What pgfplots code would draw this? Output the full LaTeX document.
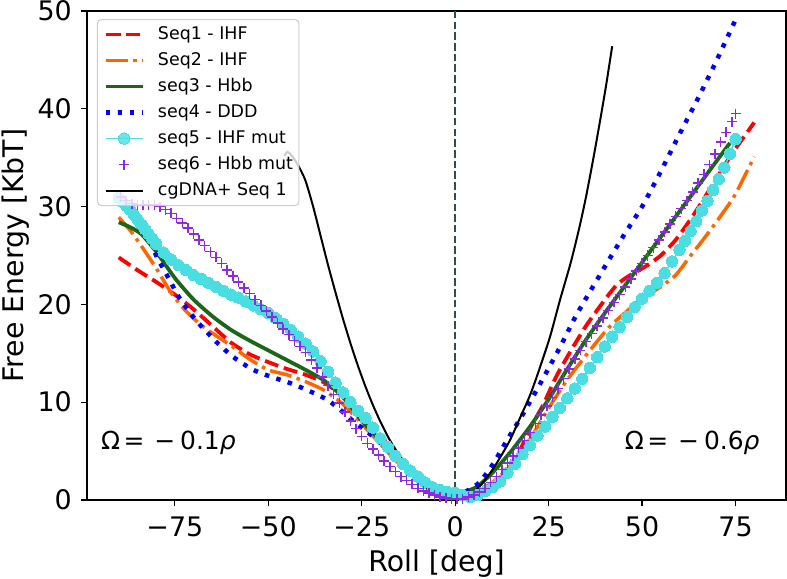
\documentclass[border=0pt]{standalone}
\usepackage{fontspec}
\setmainfont{DejaVu Sans}
\usepackage{pgfplots}
\pgfplotsset{compat=1.18}
\definecolor{c1}{RGB}{255,0,0}
\definecolor{c2}{RGB}{255,102,0}
\definecolor{c3}{RGB}{28,102,24}
\definecolor{c4}{RGB}{0,0,255}
\definecolor{c5}{RGB}{74,222,226}
\definecolor{c6}{RGB}{140,40,230}
\definecolor{vline}{RGB}{47,79,79}
\definecolor{legedge}{RGB}{204,204,204}
\begin{document}
\begin{tikzpicture}
\begin{axis}[name=ax, scale only axis, width=699bp, height=489bp,
  xmin=-98.5, xmax=88.5, ymin=0, ymax=50,
  xtick={-75,-50,-25,0,25,50,75}, xticklabels={−75,−50,−25,0,25,50,75},
  ytick={0,10,20,30,40,50}, yticklabels={0,10,20,30,40,50},
  tick align=outside, xtick pos=bottom, ytick pos=left,
  major tick length=6bp, tick style={black, line width=1.2bp},
  axis line style={line width=1.2bp},
  xticklabel style={font=\fontsize{27}{27}\selectfont, inner sep=0pt, anchor=north, yshift=-10.7bp},
  yticklabel style={font=\fontsize{27}{27}\selectfont, inner sep=0pt, anchor=east, xshift=-9bp},
  xlabel={Roll [deg]}, ylabel={Free Energy [KbT]},
  xlabel style={at={(axis description cs:0.5,-0.1466)}, anchor=base, inner sep=0pt, font=\fontsize{28.5}{28.5}\selectfont},
  ylabel style={at={(axis description cs:-0.0911,0.5)}, anchor=base, inner sep=0pt, font=\fontsize{28.5}{28.5}\selectfont},
  legend image code/.code={\draw[mark repeat=2,mark phase=2,#1] plot coordinates {(0bp,0bp) (18.5bp,0bp) (37bp,0bp)};},
  legend cell align=left,
  legend style={at={(axis description cs:0.0143,0.9836)}, anchor=north west,
    draw=legedge, line width=1bp, rounded corners=4bp, fill=white, fill opacity=0.8, draw opacity=1, text opacity=1,
    font=\fontsize{17.5}{17.5}\selectfont, inner xsep=6bp, inner ysep=6bp, row sep=8bp, column sep=13bp,
    nodes={inner sep=0pt, text height=13.5bp, text depth=4.5bp}},
]
\addplot[color=c1, line width=3.8bp, dash pattern=on 14bp off 6bp, smooth, tension=0.4] coordinates {
(-90,24.8) (-85,23.5) (-80,22.3) (-75,21.0) (-70,19.5) (-65,17.8) (-60,16.1) (-55,14.9) (-50,14.1) (-45,13.4) (-40,12.8) (-35,12.0) (-30,10.6) (-25,8.9) (-22,7.4) (-20,6.5) (-15,4.4) (-10,2.5) (-5,1.0) (-2,0.5) (0,0.4) (3,0.5) (6,0.9) (10,1.7) (14,2.8) (17,4.8) (20,7.3) (23.5,9.7) (27,12.6) (31,15.3) (35,17.8) (39.5,20.2) (43,21.9) (46,22.8) (51,23.9) (55,25.0) (59,26.6) (63.5,29.0) (68,31.7) (73.5,35.1) (77,37.0) (80,38.6)};
\addlegendentry{Seq1 - IHF}
\addplot[color=c2, line width=3.5bp, dash pattern=on 22bp off 5.5bp on 3.5bp off 5.5bp, smooth, tension=0.4] coordinates {
(-90,28.9) (-87,27.6) (-84,26.0) (-80,23.7) (-76,21.2) (-72,19.3) (-68,17.9) (-64,16.8) (-60,15.8) (-55,14.4) (-50,13.3) (-45,12.8) (-40,12.1) (-35,11.2) (-30,9.8) (-25,7.8) (-20,5.7) (-15,3.7) (-10,1.9) (-5,0.6) (-2,0.2) (0,0.2) (3,0.4) (6,0.9) (10,1.8) (15,3.6) (20,6.2) (25,9.4) (30,12.3) (35,14.8) (41,17.6) (45,19.0) (50,20.6) (55,21.8) (59,23.0) (63,25.0) (66.3,26.6) (70,28.5) (74.4,30.9) (77,32.8) (80,35.1)};
\addlegendentry{Seq2 - IHF}
\addplot[color=c3, line width=3.8bp, smooth, tension=0.4] coordinates {
(-90,28.4) (-87,27.9) (-84,27.2) (-80,25.4) (-75,22.7) (-70,20.5) (-65,18.8) (-60,17.4) (-55,16.3) (-50,15.3) (-45,14.3) (-40,13.3) (-35,12.2) (-30,10.5) (-25,8.1) (-20,6.1) (-15,4.1) (-10,2.3) (-5,1.0) (-2,0.6) (0,0.7) (3,0.9) (6,1.4) (10,2.8) (15,5.0) (20,7.5) (25,10.3) (30,13.4) (35,16.4) (40,19.1) (45,21.7) (50,24.3) (55,26.9) (60,29.5) (65,32.1) (70,34.7) (73.5,36.5)};
\addlegendentry{seq3 - Hbb}
\addplot[color=c4, line width=4.5bp, dash pattern=on 4.5bp off 7.5bp, smooth, tension=0.4] coordinates {
(-89,30.3) (-86,29.3) (-84.5,28.6) (-82,27.1) (-80,25.0) (-78,23.6) (-76,22.2) (-74,20.8) (-72,19.7) (-70,18.7) (-68,17.8) (-66,17.0) (-64,16.2) (-62,15.5) (-60,14.8) (-57,14.0) (-54,13.3) (-50,12.7) (-46,12.2) (-43,11.8) (-40,11.3) (-37,10.8) (-34,10.2) (-31,9.3) (-28,8.3) (-25,7.4) (-22,6.5) (-18.5,5.3) (-15,4.1) (-11.4,2.9) (-8,1.8) (-6,1.1) (-3,0.5) (0,0.6) (3,0.9) (6.5,1.8) (10,3.6) (14,6.2) (18,8.7) (22.6,11.8) (28,15.6) (32.4,18.9) (38.7,23.0) (45,27.0) (50,30.0) (55,33.6) (60,37.4) (65,41.1) (70,45.0) (75,49.1)};
\addlegendentry{seq4 - DDD}
\addplot[color=c5, line width=1.5bp, mark=*, mark size=5.7bp, mark options={solid, fill=c5, draw=c5, line width=0pt}] coordinates {
(-90,30.9) (-89,30.5) (-88,30.1) (-87,29.7) (-86,29.2) (-85,28.7) (-84,28.2) (-83,27.7) (-82,27.2) (-81,26.7) (-80,26.2) (-78,25.3) (-76,24.6) (-74,24.0) (-72,23.5) (-70,23.0) (-68,22.6) (-66,22.2) (-64,21.8) (-62,21.4) (-60,21.0) (-58,20.7) (-56,20.3) (-54,19.9) (-52,19.5) (-50,19.1) (-48,18.6) (-46,18.0) (-44,17.4) (-42,16.7) (-40,16.0) (-38,15.2) (-36,14.2) (-34,13.1) (-32,12.0) (-30,11.0) (-28,10.0) (-26,9.1) (-24,8.4) (-22,7.4) (-20,6.3) (-18,5.4) (-16,4.5) (-14,3.7) (-12,3.0) (-10,2.4) (-8,1.8) (-6,1.3) (-4,1.0) (-2,0.8) (0,0.7) (2,0.5) (4,0.3) (6,0.5) (8,0.9) (10,1.3) (12,1.9) (14,2.8) (16,3.7) (18,4.7) (20,5.6) (22,6.6) (24,7.5) (26,8.5) (28,9.4) (30,10.4) (32,11.4) (34,12.4) (36,13.5) (38,14.6) (40,15.7) (42,16.7) (44,17.7) (46,18.7) (48,19.7) (50,20.6) (52,21.4) (54,22.2) (56,23.2) (58,24.4) (60,25.6) (61.5,26.5) (63,27.5) (64.5,28.5) (66,29.6) (67.5,30.6) (69,31.7) (70.5,32.8) (72,34.0) (73.5,35.4) (75,36.9)};
\addlegendentry{seq5 - IHF mut}
\addplot[color=c6, only marks, mark=+, mark size=5bp, mark options={line width=1.5bp}] coordinates {
(-89.5,31.0) (-88,30.6) (-86.5,30.3) (-85,30.2) (-83.5,30.2) (-82,30.2) (-80.5,30.2) (-79,30.0) (-77.5,29.7) (-76,29.3) (-74.5,28.8) (-73,28.3) (-71.5,27.8) (-70,27.2) (-68.5,26.6) (-67,26.0) (-65.5,25.4) (-64,24.8) (-62.5,24.2) (-61,23.5) (-59.5,22.9) (-58,22.3) (-56.5,21.7) (-55,21.1) (-53.5,20.5) (-52,19.9) (-50.5,19.3) (-49,18.7) (-47.5,18.1) (-46,17.5) (-44.5,16.9) (-43,16.3) (-41.5,15.7) (-40,15.1) (-38.5,14.3) (-37,13.5) (-35.5,12.6) (-34,11.7) (-32.5,10.8) (-31,9.9) (-29.5,9.0) (-28,8.1) (-26.5,7.3) (-25,6.5) (-23.5,5.8) (-22,5.2) (-20.5,4.6) (-19,4.0) (-17.5,3.4) (-16,2.9) (-14.5,2.4) (-13,2.0) (-11.5,1.6) (-10,1.2) (-8.5,0.9) (-7,0.7) (-5.5,0.5) (-4,0.3) (-2.5,0.2) (-1,0.1) (0.5,0.1) (2,0.1) (3.5,0.3) (5,0.5) (6.5,0.8) (8,1.2) (9.5,1.8) (11,2.4) (12.5,3.1) (14,3.8) (15.5,4.5) (17,5.3) (18.5,6.1) (20,6.9) (21.5,7.8) (23,8.7) (24.5,9.6) (26,10.5) (27.5,11.4) (29,12.4) (30.5,13.4) (32,14.4) (33.5,15.3) (35,16.2) (36.5,17.0) (38,17.8) (39.5,18.6) (41,19.4) (42.5,20.2) (44,21.0) (45.5,21.8) (47,22.6) (48.5,23.4) (50,24.2) (51.5,25.0) (53,25.8) (54.5,26.6) (56,27.4) (57.5,28.2) (59,29.0) (60.5,29.8) (62,30.6) (63.5,31.5) (65,32.4) (66.5,33.3) (68,34.3) (69.5,35.4) (71,36.6) (72.5,37.6) (74,38.7) (75,39.5)};
\addlegendentry{seq6 - Hbb mut}
\addplot[color=black, line width=2bp, smooth, tension=0.4] coordinates {
(-45.7,35.2) (-44.8,35.6) (-43.5,35.1) (-41.7,34.0) (-40,32.6) (-38,30.0) (-36,27.0) (-34,24.0) (-32,21.2) (-30,18.5) (-28,16.0) (-26,13.7) (-24,11.6) (-22,9.7) (-20,8.0) (-17.6,6.2) (-15,4.6) (-12.2,3.0) (-9,1.7) (-6,0.7) (-3,0.2) (0,0.0) (2,0.2) (5,0.8) (8.3,2.2) (11,3.7) (14.5,6.0) (17,8.1) (19.9,10.6) (22,12.8) (25.3,16.6) (28,20.4) (31,24.4) (33.3,28.0) (35,31.0) (37,35.0) (39,39.3) (40.5,42.7) (42,46.4)};
\addlegendentry{cgDNA+ Seq 1}
\addplot[color=vline, line width=2bp, dash pattern=on 7.5bp off 3.2bp, forget plot] coordinates {(0,0) (0,50)};
\node[anchor=base west, inner sep=0pt, font=\fontsize{25}{25}\selectfont] at (axis cs:-94.8,5.16) {Ω\hspace{0.14em}=\hspace{0.4em}−\hspace{0.2em}0.1\textit{ρ}};
\node[anchor=base west, inner sep=0pt, font=\fontsize{25}{25}\selectfont] at (axis cs:45.35,5.16) {Ω\hspace{0.14em}=\hspace{0.4em}−\hspace{0.2em}0.6\textit{ρ}};
\end{axis}
\pgfresetboundingbox
\useasboundingbox ([shift={(-87bp,-79bp)}]ax.south west) rectangle ([shift={(1bp,11bp)}]ax.north east);
\end{tikzpicture}
\end{document}
